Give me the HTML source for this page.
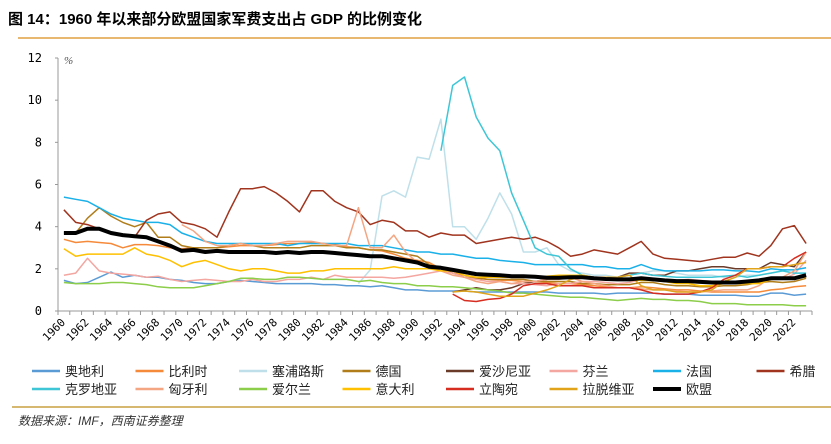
<!DOCTYPE html>
<html><head><meta charset="utf-8"><style>
body{margin:0;background:#fff;width:831px;height:439px;overflow:hidden;font-family:"Liberation Sans","Noto Sans CJK SC",sans-serif}
</style></head><body>
<svg width="831" height="439" xmlns="http://www.w3.org/2000/svg">
<text x="8" y="24" font-size="15" font-weight="bold" fill="#000" font-family="Liberation Sans,Noto Sans CJK SC,sans-serif">图 14：1960 年以来部分欧盟国家军费支出占 GDP 的比例变化</text>
<line x1="18" y1="38" x2="831" y2="38" stroke="#e0a040" stroke-width="1.5"/>
<g id="axes"></g>
<g id="series"></g>
<g id="legend"></g>
<line x1="12" y1="407" x2="831" y2="407" stroke="#c8a040" stroke-width="1.5"/>
<text x="18" y="425" font-size="12" font-style="italic" fill="#333" font-family="Liberation Sans,Noto Sans CJK SC,sans-serif">数据来源：IMF，西南证券整理</text>
</svg>
<script>
const startYear = 1960;
const yTicks = [0,2,4,6,8,10,12];
const names = ["奥地利","比利时","塞浦路斯","德国","爱沙尼亚","芬兰","法国","希腊","克罗地亚","匈牙利","爱尔兰","意大利","立陶宛","拉脱维亚","欧盟"];
const colors = ["#5b9bd5","#f58a3a","#bfe0ea","#b07d1a","#6b3b2a","#f4a6a0","#1ab0e8","#a0341e","#3fc6d6","#f4a582","#8ccd4a","#ffc000","#d62d20","#e0a31a","#000000"];
const N = null;
const austria = [1.45,1.3,1.35,1.6,1.85,1.6,1.7,1.6,1.6,1.5,1.45,1.35,1.3,1.3,1.4,1.45,1.4,1.35,1.3,1.3,1.3,1.3,1.25,1.25,1.2,1.2,1.15,1.2,1.1,1.0,1.0,0.95,0.95,0.95,0.95,0.9,0.9,0.9,0.9,0.9,0.9,0.9,0.85,0.85,0.85,0.85,0.8,0.85,0.85,0.85,0.85,0.8,0.8,0.8,0.75,0.75,0.75,0.75,0.7,0.7,0.85,0.85,0.75,0.8];
const belgium = [3.4,3.25,3.3,3.25,3.2,3.0,3.15,3.15,3.1,3.0,2.95,3.0,3.0,3.0,3.05,3.1,3.1,3.1,3.15,3.2,3.2,3.25,3.2,3.15,3.05,3.0,2.9,2.85,2.7,2.5,2.4,2.3,2.0,1.8,1.7,1.6,1.5,1.45,1.45,1.4,1.4,1.35,1.3,1.3,1.25,1.2,1.15,1.1,1.1,1.15,1.1,1.05,1.0,1.0,0.95,0.9,0.9,0.9,0.9,0.9,1.0,1.05,1.15,1.2];
const cyprus = [N,N,N,N,N,N,N,N,N,N,N,N,N,N,N,N,N,N,N,N,N,N,N,N,N,1.3,1.95,5.45,5.7,5.4,7.3,7.2,9.1,4.0,4.0,3.4,4.4,5.6,4.6,2.8,2.8,3.0,2.2,1.9,1.8,1.7,1.7,1.6,1.7,1.8,1.9,1.9,1.8,1.7,1.7,1.7,1.6,1.6,1.7,1.7,1.8,1.9,1.8,1.8];
const germany = [3.7,3.7,4.4,4.9,4.5,4.2,4.0,4.2,3.5,3.5,3.1,3.0,3.0,3.0,3.1,3.2,3.1,3.0,3.0,3.0,3.0,3.1,3.1,3.1,3.0,3.0,2.9,2.9,2.8,2.7,2.6,2.2,2.0,1.8,1.6,1.55,1.5,1.5,1.5,1.5,1.4,1.4,1.4,1.4,1.3,1.3,1.25,1.25,1.25,1.35,1.35,1.25,1.2,1.2,1.15,1.15,1.2,1.2,1.25,1.35,1.4,1.35,1.4,1.55];
const estonia = [N,N,N,N,N,N,N,N,N,N,N,N,N,N,N,N,N,N,N,N,N,N,N,N,N,N,N,N,N,N,N,N,N,0.9,1.0,1.1,1.0,1.0,1.1,1.3,1.4,1.5,1.6,1.6,1.6,1.5,1.5,1.6,1.8,1.8,1.7,1.7,1.9,1.9,2.0,2.1,2.1,2.0,2.0,2.0,2.3,2.2,2.1,2.8];
const finland = [1.7,1.8,2.5,1.9,1.8,1.75,1.7,1.6,1.65,1.5,1.4,1.45,1.5,1.45,1.4,1.4,1.5,1.4,1.4,1.5,1.5,1.6,1.5,1.7,1.6,1.6,1.6,1.6,1.55,1.6,1.7,1.8,1.9,1.8,1.6,1.5,1.4,1.4,1.3,1.3,1.25,1.2,1.3,1.3,1.4,1.4,1.35,1.3,1.35,1.5,1.5,1.5,1.45,1.5,1.45,1.4,1.35,1.35,1.4,1.5,1.5,1.5,1.75,2.4];
const france = [5.4,5.3,5.2,4.9,4.6,4.4,4.3,4.2,4.2,4.1,3.7,3.5,3.3,3.2,3.2,3.2,3.2,3.2,3.2,3.1,3.2,3.2,3.2,3.2,3.2,3.1,3.1,3.1,3.0,2.9,2.8,2.8,2.7,2.7,2.6,2.5,2.5,2.4,2.35,2.3,2.2,2.2,2.2,2.2,2.2,2.1,2.1,2.0,2.0,2.2,2.0,1.9,1.9,1.9,1.9,1.95,1.95,1.9,1.9,1.85,2.0,1.95,1.95,2.05];
const greece = [4.8,4.2,4.1,3.9,3.7,3.6,3.5,4.3,4.6,4.7,4.2,4.1,3.9,3.5,4.7,5.8,5.8,5.9,5.6,5.2,4.7,5.7,5.7,5.2,4.9,4.7,4.1,4.3,4.2,3.8,3.8,3.5,3.7,3.6,3.6,3.2,3.3,3.4,3.5,3.4,3.5,3.3,3.0,2.6,2.7,2.9,2.8,2.7,3.0,3.3,2.7,2.5,2.45,2.4,2.35,2.45,2.55,2.55,2.75,2.6,3.1,3.9,4.05,3.2];
const croatia = [N,N,N,N,N,N,N,N,N,N,N,N,N,N,N,N,N,N,N,N,N,N,N,N,N,N,N,N,N,N,N,N,7.6,10.7,11.1,9.2,8.2,7.6,5.6,4.3,3.0,2.7,2.6,2.0,1.7,1.6,1.6,1.6,1.7,1.8,1.7,1.65,1.6,1.6,1.6,1.6,1.65,1.7,1.6,1.7,1.8,1.9,1.8,1.8];
const hungary = [N,N,N,N,N,N,N,N,N,N,4.1,3.8,3.3,3.1,3.1,3.2,3.1,3.1,3.2,3.3,3.3,3.3,3.2,3.1,3.1,4.9,3.0,3.0,3.6,2.8,2.3,2.1,1.9,1.7,1.6,1.4,1.3,1.4,1.3,1.4,1.4,1.5,1.5,1.6,1.4,1.3,1.2,1.1,1.1,1.05,1.0,1.0,0.95,0.9,0.9,0.95,1.0,1.0,1.0,1.2,1.6,1.6,1.9,2.8];
const ireland = [1.35,1.3,1.3,1.3,1.35,1.35,1.3,1.25,1.15,1.1,1.1,1.1,1.2,1.3,1.4,1.55,1.55,1.5,1.5,1.6,1.6,1.55,1.5,1.5,1.5,1.4,1.45,1.35,1.3,1.3,1.2,1.2,1.15,1.15,1.1,1.05,1.0,0.95,0.85,0.85,0.8,0.75,0.7,0.65,0.65,0.6,0.55,0.5,0.55,0.6,0.55,0.55,0.5,0.5,0.45,0.35,0.35,0.35,0.3,0.3,0.3,0.3,0.25,0.25];
const italy = [2.95,2.6,2.7,2.7,2.7,2.7,3.0,2.7,2.6,2.4,2.1,2.3,2.4,2.2,2.0,1.9,2.0,2.0,1.9,1.8,1.8,1.9,1.9,2.0,2.0,2.0,2.0,2.0,2.1,2.0,2.0,2.0,1.9,1.9,1.7,1.6,1.6,1.6,1.6,1.6,1.6,1.65,1.7,1.7,1.7,1.6,1.55,1.5,1.5,1.45,1.45,1.4,1.3,1.3,1.2,1.2,1.3,1.3,1.3,1.3,1.5,1.55,1.6,1.6];
const lithuania = [N,N,N,N,N,N,N,N,N,N,N,N,N,N,N,N,N,N,N,N,N,N,N,N,N,N,N,N,N,N,N,N,N,0.8,0.5,0.45,0.55,0.6,0.8,1.2,1.3,1.3,1.2,1.2,1.2,1.1,1.1,1.1,1.1,1.0,0.85,0.8,0.8,0.8,0.9,1.1,1.5,1.7,2.0,2.0,2.1,2.1,2.5,2.8];
const latvia = [N,N,N,N,N,N,N,N,N,N,N,N,N,N,N,N,N,N,N,N,N,N,N,N,N,N,N,N,N,N,N,N,N,0.9,0.95,0.9,0.8,0.7,0.7,0.7,0.85,1.0,1.2,1.5,1.6,1.6,1.6,1.6,1.7,1.2,1.0,1.0,0.9,0.9,0.9,1.0,1.4,1.6,2.0,2.0,2.1,2.1,2.2,2.3];
const eu = [3.7,3.7,3.9,3.9,3.7,3.6,3.55,3.5,3.3,3.1,2.85,2.9,2.8,2.85,2.8,2.8,2.8,2.8,2.75,2.8,2.75,2.8,2.8,2.75,2.7,2.65,2.6,2.6,2.5,2.4,2.3,2.1,2.05,1.95,1.85,1.75,1.72,1.7,1.65,1.65,1.62,1.58,1.58,1.6,1.6,1.55,1.52,1.5,1.5,1.55,1.5,1.45,1.42,1.42,1.38,1.35,1.35,1.35,1.4,1.45,1.55,1.55,1.55,1.7];

const NS="http://www.w3.org/2000/svg";
const X0=58, X1=812, Y0=311, Y12=58;
const nYears = eu.length;
const step=(X1-X0)/nYears;
function xs(i){return X0+(i+0.5)*step;}
function ys(v){return Y0-(v/12)*(Y0-Y12);}
function mk(tag,attrs,parent){const e=document.createElementNS(NS,tag);for(const k in attrs)e.setAttribute(k,attrs[k]);parent.appendChild(e);return e;}
const axes=document.getElementById('axes');
const mono='DejaVu Sans Mono,Liberation Mono,monospace';
const yl=mk('line',{x1:X0,y1:Y12,x2:X0,y2:Y0,stroke:'#999'},axes);


const xl=mk('line',{x1:X0-3,y1:Y0,x2:X1,y2:Y0,stroke:'#999'},axes);


yTicks.forEach(t=>{
  mk('line',{x1:X0-3,y1:ys(t),x2:X0,y2:ys(t),stroke:'#999'},axes);
  const tx=mk('text',{x:42,y:ys(t)+4,'text-anchor':'end','font-size':12,'font-family':mono,fill:'#000'},axes);
  tx.textContent=t;
  
  
});
const pct=mk('text',{x:64,y:64,'font-size':11,'font-family':'Liberation Serif,serif','font-style':'italic',fill:'#555'},axes);
pct.textContent='%';


for(let i=0;i<=nYears;i++){
  mk('line',{x1:X0+i*step,y1:Y0,x2:X0+i*step,y2:Y0+4,stroke:'#999'},axes);
}
for(let i=0;i<nYears;i+=2){
  const x=xs(i)+2, y=Y0+12;
  const tx=mk('text',{x:x,y:y,'text-anchor':'end','font-size':11,'font-family':mono,fill:'#000',transform:`rotate(-45 ${x} ${y})`},axes);
  tx.textContent=startYear+i;
  
  
}
const allSeries=[austria,belgium,cyprus,germany,estonia,finland,france,greece,croatia,hungary,ireland,italy,lithuania,latvia,eu];
const sg=document.getElementById('series');
allSeries.forEach((arr,si)=>{
  let d='',pen=false;
  arr.forEach((v,i)=>{ if(v===null){pen=false;return;} d+=(pen?'L':'M')+xs(i).toFixed(1)+','+ys(v).toFixed(1); pen=true;});
  const isEU=si===allSeries.length-1;
  const p=mk('path',{d:d,fill:'none',stroke:colors[si],'stroke-width':isEU?4:1.5,'stroke-linejoin':'round'},sg);
  
  
});
const lg=document.getElementById('legend');
names.forEach((n,i)=>{
  const col=i%8,row=Math.floor(i/8);
  const x=32+col*103.5,y=371+row*18;
  const isEU=i===names.length-1;
  const ln=mk('line',{x1:x,y1:y,x2:x+28,y2:y,stroke:colors[i],'stroke-width':isEU?4:2.5},lg);
  
  
  const t=mk('text',{x:x+33,y:y+5,'font-size':13,fill:'#222','font-family':'Liberation Sans,Noto Sans CJK SC,sans-serif'},lg);
  t.textContent=n;
  
  
});
</script>
</body></html>
